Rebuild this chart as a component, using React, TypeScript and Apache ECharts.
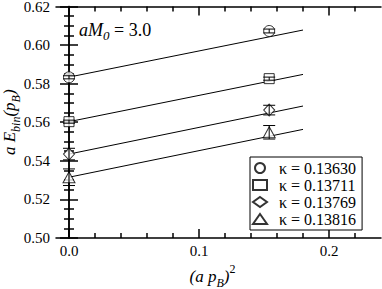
import React, { useEffect, useRef } from "react";
import * as echarts from "echarts";

const kappas = ["0.13630", "0.13711", "0.13769", "0.13816"];
const symbols = ["circle", "rect", "diamond", "triangle"];
const symbolSizes: any[] = [11, 10, [11, 12], [12, 11]];
const xPoints = [0, 0.154];
const yValues = [
  [0.5833, 0.6073],
  [0.5603, 0.5826],
  [0.5435, 0.5663],
  [0.5315, 0.5548],
];
const yErrors = [
  [0.0008, 0.001],
  [0.0008, 0.0008],
  [0.003, 0.0025],
  [0.0043, 0.0035],
];
const fitX = [0, 0.18];
const fitY = [
  [0.5834, 0.6078],
  [0.5603, 0.5848],
  [0.5435, 0.5684],
  [0.5315, 0.5563],
];
const xMajorTicks = [0, 0.1, 0.2];
const xMinorTicks = [0.02, 0.04, 0.06, 0.08, 0.12, 0.14, 0.16, 0.18, 0.22];
const xTickLabels = ["0.0", "0.1", "0.2"];

const FONT = "Liberation Serif, Times New Roman, Times, DejaVu Serif, serif";

export default function App() {
  const ref = useRef<HTMLDivElement>(null);
  useEffect(() => {
    const chart = echarts.init(ref.current!, null, { renderer: "svg" });
    const axisLine = { show: true, lineStyle: { color: "#000", width: 1.5 } };
    const mkX = (position: string, major: boolean, labels: boolean, name?: boolean): any => ({
      type: "value",
      position,
      min: -0.01,
      max: 0.24,
      axisLine: major ? axisLine : { show: false },
      splitLine: { show: false },
      axisTick: {
        show: true,
        inside: true,
        length: major ? 9 : 5,
        customValues: major ? xMajorTicks : xMinorTicks,
        lineStyle: { color: "#000", width: 1.5 },
      },
      axisLabel: {
        show: labels,
        customValues: xMajorTicks,
        formatter: (v: number) => {
          const i = xMajorTicks.findIndex((t) => Math.abs(t - v) < 1e-9);
          return i >= 0 ? xTickLabels[i] : "";
        },
        fontFamily: FONT,
        fontSize: 15,
        color: "#000",
        margin: 5,
      },
      ...(name
        ? {
            name: "{i|(a p}{sub|B}{i|)}{sup|2}",
            nameLocation: "middle",
            nameGap: 25,
            nameMoveOverlap: false,
            nameTextStyle: {
              padding: [0, 12, 0, 0],
              rich: {
                i: { fontFamily: FONT, fontStyle: "italic", fontSize: 17, lineHeight: 26, color: "#000" },
                sub: { fontFamily: FONT, fontStyle: "italic", fontSize: 12, lineHeight: 15, verticalAlign: "bottom", color: "#000" },
                sup: { fontFamily: FONT, fontSize: 12, lineHeight: 14, verticalAlign: "top", color: "#000" },
              },
            },
          }
        : {}),
    });
    const mkY = (position: string, labels: boolean, name?: boolean): any => ({
      type: "value",
      position,
      min: 0.5,
      max: 0.62,
      interval: 0.02,
      axisLine,
      splitLine: { show: false },
      axisTick: { show: true, inside: true, length: 9, lineStyle: { color: "#000", width: 1.5 } },
      minorTick: { show: true, splitNumber: 4, length: 5, lineStyle: { color: "#000", width: 1.5 } },
      minorSplitLine: { show: false },
      axisLabel: {
        show: labels,
        formatter: (v: number) => v.toFixed(2),
        fontFamily: FONT,
        fontSize: 15,
        color: "#000",
        margin: 6,
      },
      ...(name
        ? {
            name: "{i|a E}{sub|bin}{i|(p}{sub|B}{i|)}",
            nameLocation: "middle",
            nameRotate: 90,
            nameGap: 34,
            nameMoveOverlap: false,
            nameTextStyle: {
              rich: {
                i: { fontFamily: FONT, fontStyle: "italic", fontSize: 17, lineHeight: 26, color: "#000" },
                sub: { fontFamily: FONT, fontStyle: "italic", fontSize: 12, lineHeight: 12, verticalAlign: "bottom", color: "#000" },
              },
            },
          }
        : {}),
    });

    const series: any[] = [];
    kappas.forEach((k, i) => {
      series.push({
        type: "line",
        xAxisIndex: 0,
        yAxisIndex: 0,
        data: fitX.map((x, j) => [x, fitY[i][j]]),
        showSymbol: false,
        symbol: "none",
        lineStyle: { color: "#000", width: 1 },
        z: 1,
        silent: true,
      });
    });
    kappas.forEach((k, i) => {
      series.push({
        type: "scatter",
        name: "κ = " + k,
        xAxisIndex: 0,
        yAxisIndex: 0,
        symbol: symbols[i],
        symbolSize: symbolSizes[i],
        data: xPoints.map((x, j) => [x, yValues[i][j]]),
        itemStyle: { color: "#fff", borderColor: "#000", borderWidth: 1 },
        z: 2,
      });
    });
    kappas.forEach((k, i) => {
      series.push({
        type: "custom",
        xAxisIndex: 0,
        yAxisIndex: 0,
        z: 3,
        data: xPoints.map((x, j) => [x, yValues[i][j], yErrors[i][j]]),
        renderItem: (params: any, api: any) => {
          const x = api.value(0);
          const y = api.value(1);
          const e = api.value(2);
          const lo = api.coord([x, y - e]);
          const hi = api.coord([x, y + e]);
          const hw = 6;
          const st = { stroke: "#000", lineWidth: 1 };
          return {
            type: "group",
            children: [
              { type: "line", shape: { x1: lo[0], y1: lo[1], x2: hi[0], y2: hi[1] }, style: st },
              { type: "line", shape: { x1: lo[0] - hw, y1: lo[1], x2: lo[0] + hw, y2: lo[1] }, style: st },
              { type: "line", shape: { x1: hi[0] - hw, y1: hi[1], x2: hi[0] + hw, y2: hi[1] }, style: st },
            ],
          };
        },
      });
    });

    chart.setOption({
      animation: false,
      grid: { left: 56, right: 1, top: 6.5, bottom: 51, containLabel: false, outerBoundsMode: "none" },
      xAxis: [
        mkX("bottom", true, true, true),
        mkX("bottom", false, false),
        mkX("top", true, false),
        mkX("top", false, false),
      ],
      yAxis: [mkY("left", true, true), mkY("right", false)],
      legend: {
        show: true,
        orient: "vertical",
        left: 250,
        top: 157,
        padding: [3, 6, 3, 2],
        itemWidth: 14,
        itemHeight: 10,
        itemGap: 1,
        borderColor: "#000",
        borderWidth: 1,
        borderRadius: 0,
        backgroundColor: "#fff",
        data: kappas.map((k) => "κ = " + k),
        textStyle: { fontFamily: FONT, fontSize: 16, lineHeight: 14, color: "#000", padding: [0, 0, 0, 7] },
      },
      graphic: [
        {
          type: "text",
          left: 79,
          top: 21,
          style: {
            text: "{i|aM}{sub|0}{n| = 3.0}",
            rich: {
              i: { fontFamily: FONT, fontStyle: "italic", fontSize: 18, lineHeight: 24, fill: "#000" },
              sub: { fontFamily: FONT, fontStyle: "italic", fontSize: 13, lineHeight: 12, verticalAlign: "bottom", fill: "#000" },
              n: { fontFamily: FONT, fontSize: 18, lineHeight: 24, fill: "#000" },
            },
          },
        },
      ],
      series,
    });
    return () => chart.dispose();
  }, []);
  return <div ref={ref} style={{ width: 382, height: 289, position: "absolute", left: 0, top: 0 }} />;
}
